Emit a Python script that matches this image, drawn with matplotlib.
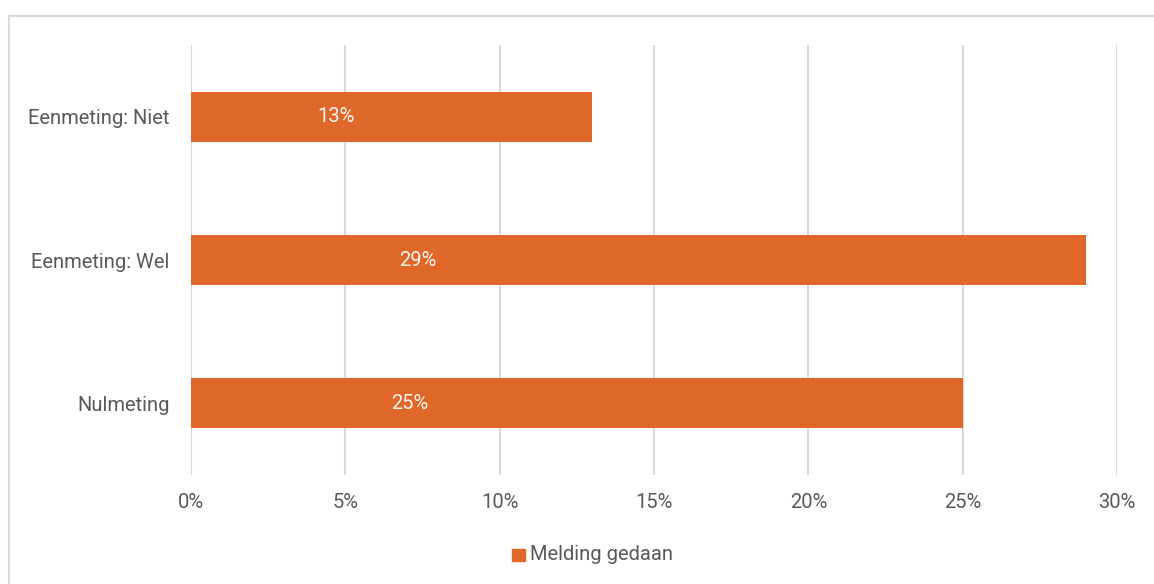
import matplotlib
matplotlib.use("Agg")
import matplotlib.pyplot as plt
from matplotlib.patches import Rectangle

# data (top to bottom as shown)
categories = ["Eenmeting: Niet", "Eenmeting: Wel", "Nulmeting"]
values = [13, 29, 25]
series_name = "Melding gedaan"
xticks = [0, 5, 10, 15, 20, 25, 30]

# where the value labels sit inside the bars (in % units)
label_x = [4.7, 7.35, 7.1]

barColor = "#E0672A"
textColor = "#595959"
gridColor = "#D9D9D9"

plt.rcParams['font.family'] = ['Roboto', 'DejaVu Sans']
plt.rcParams['font.weight'] = 'normal'

W, H = 1154, 584
fig = plt.figure(figsize=(W / 100, H / 100), dpi=100)

# outer frame (right/bottom run off the picture)
fig.patches.append(Rectangle((9 / W, -0.05), 1.2, 1 - 16 / H + 0.05, transform=fig.transFigure,
                             fill=False, edgecolor=gridColor, linewidth=1.5, zorder=0))

ax = fig.add_axes([191 / W, 1 - 475 / H, (1117 - 191) / W, (475 - 45) / H])

ypos = list(range(len(categories)))
ax.barh(ypos, values, height=0.35, color=barColor, zorder=3)

for y, v, lx in zip(ypos, values, label_x):
    ax.text(lx, y, "%d%%" % v, color="#FFF6EE", fontsize=14.5, ha="center", va="center", zorder=4)

ax.set_xlim(0, 30)
ax.set_ylim(len(categories) - 0.5, -0.5)
ax.set_xticks(xticks)
ax.set_xticklabels(["%d%%" % t for t in xticks])
ax.set_yticks(ypos)
ax.set_yticklabels(categories)
ax.tick_params(axis="both", length=0, labelsize=14.5, colors=textColor)
ax.tick_params(axis="x", pad=13)
ax.tick_params(axis="y", pad=15.5)

ax.grid(axis="x", color=gridColor, linewidth=1.5, zorder=0)
for s in ax.spines.values():
    s.set_visible(False)

# legend below
fig.patches.append(Rectangle((512 / W, 1 - 561 / H), 13 / W, 12 / H, transform=fig.transFigure,
                             color=barColor))
fig.text(530 / W, 1 - 554 / H, series_name, color=textColor, fontsize=14.5, ha="left", va="center")

fig.savefig("out.png", dpi=100, facecolor="white")
